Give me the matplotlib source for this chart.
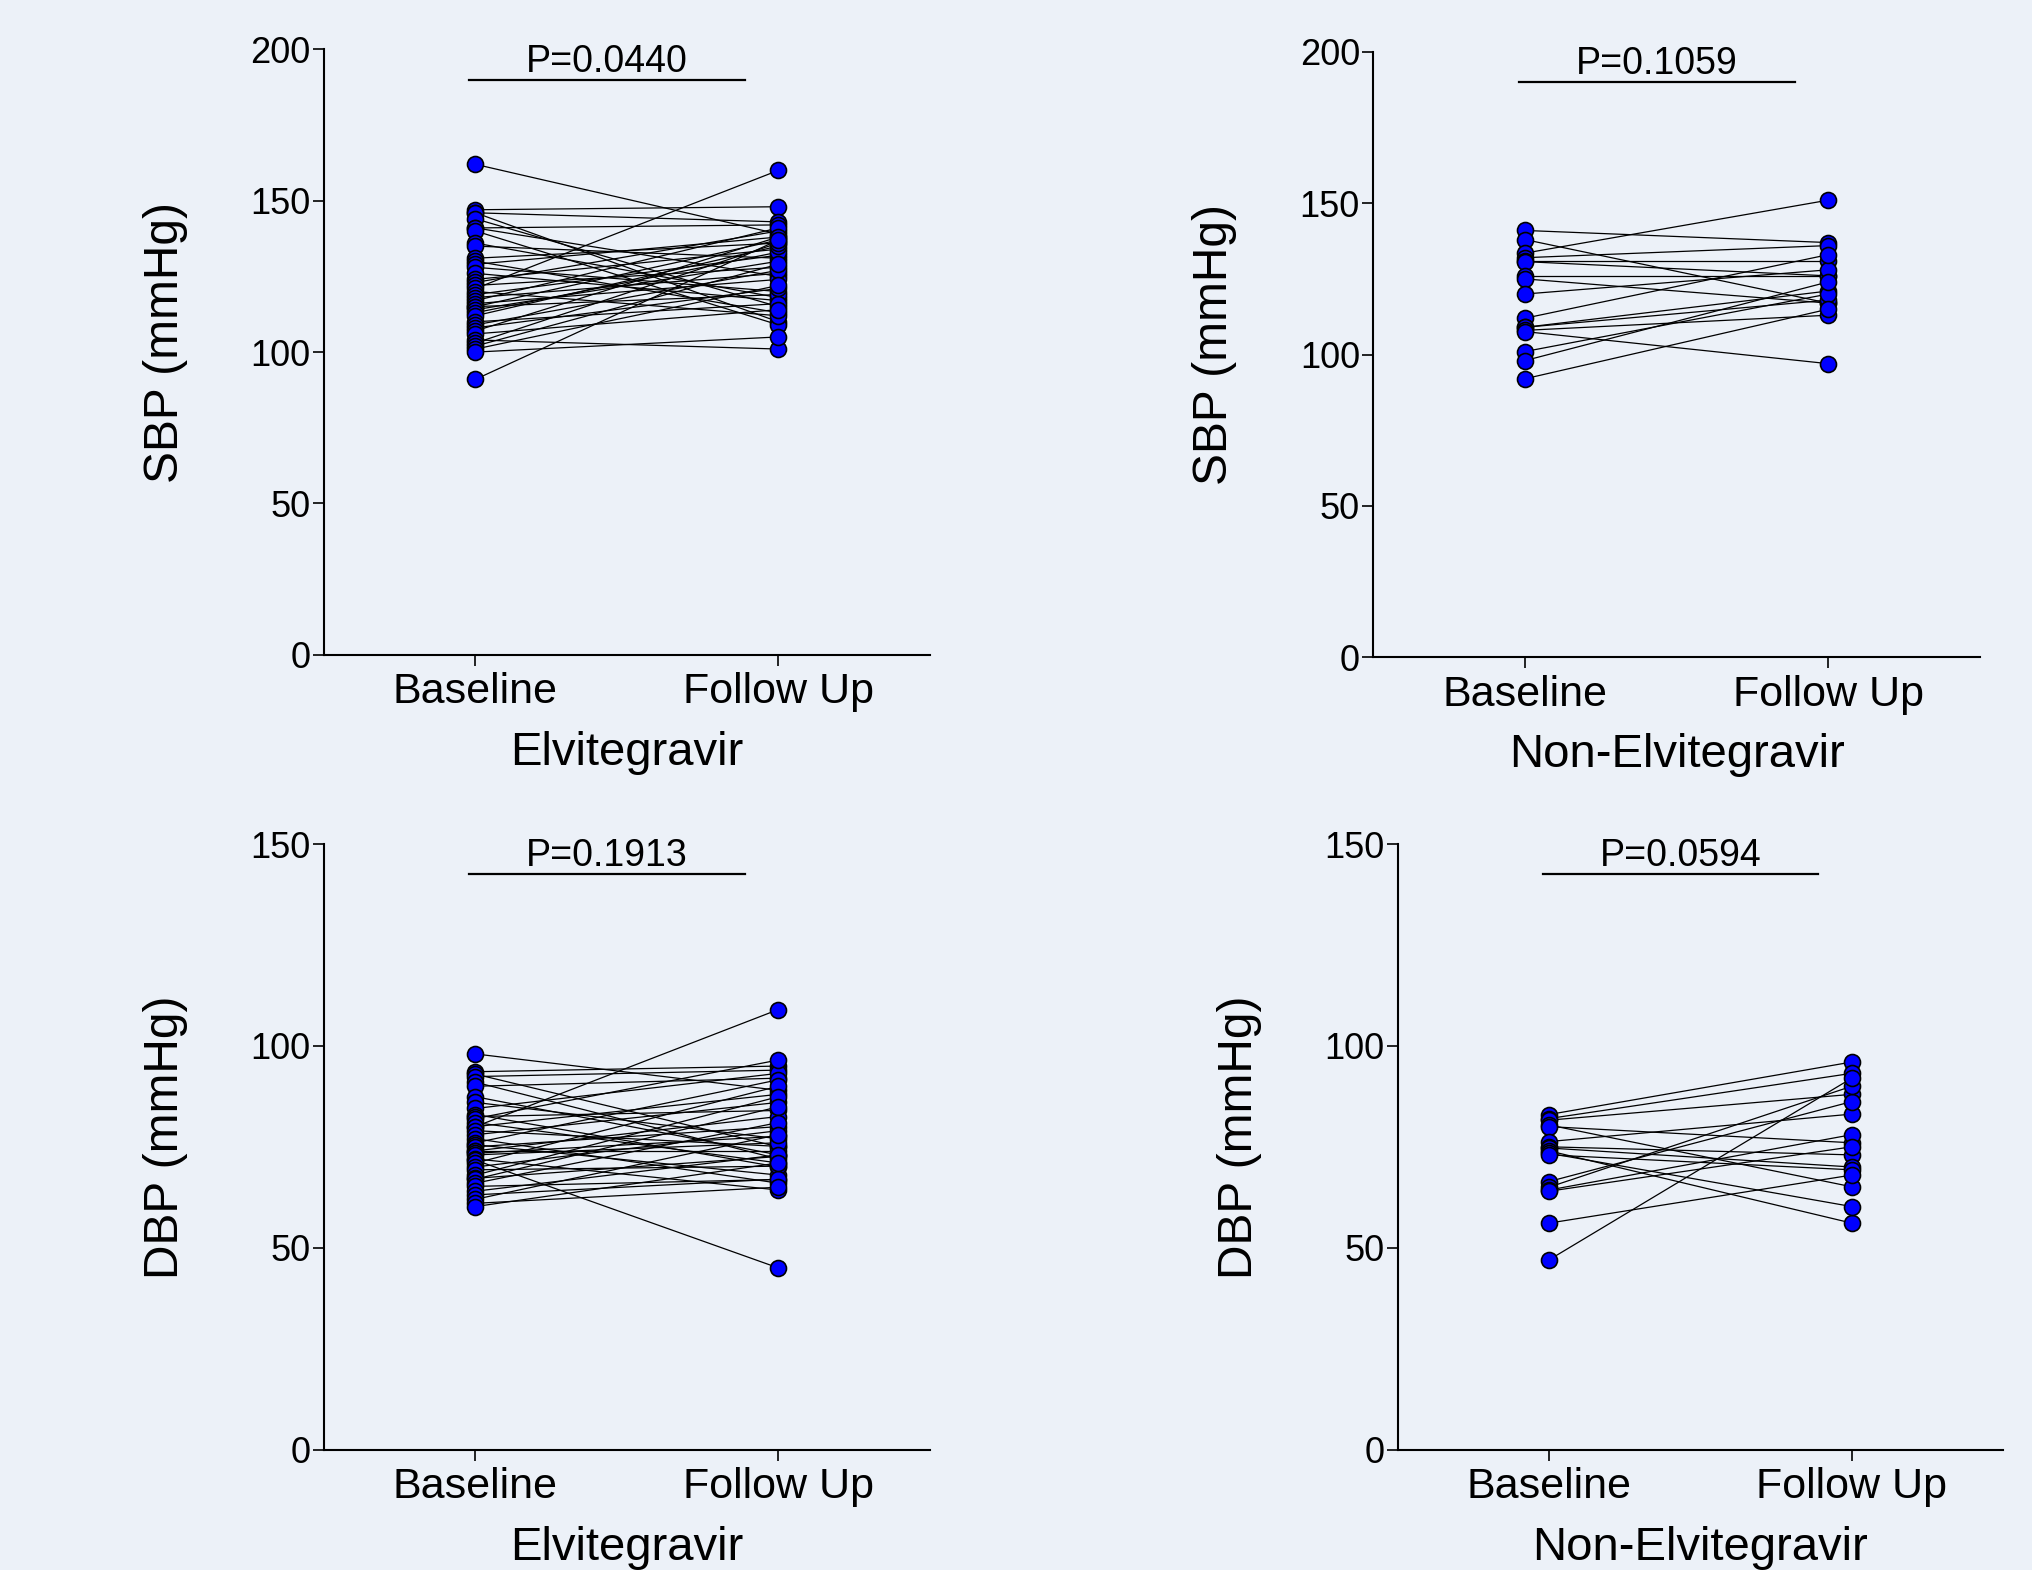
import matplotlib
matplotlib.use("Agg")
import matplotlib.pyplot as plt

plt.rcParams['font.family'] = ['Liberation Sans', 'DejaVu Sans']

# values (one entry per subject)
sbp_elv_base = [162, 147, 146, 146, 144, 141, 141, 140, 136, 135, 131, 130, 129, 128,
                126, 124, 123, 122, 121, 120, 119, 118, 117, 116, 115, 115, 114, 113,
                112, 110, 109, 108, 107, 106, 104, 103, 102, 101, 100, 91]
sbp_elv_follow = [139, 148, 143, 110, 115, 142, 125, 109, 118, 131, 136, 113, 138, 120,
                  117, 134, 140, 128, 160, 112, 132, 126, 141, 124, 137, 119, 130, 133,
                  135, 116, 127, 121, 138, 114, 101, 136, 129, 122, 105, 137]

sbp_non_base = [141, 138, 133.5, 132, 131, 130.7, 126, 125, 120, 112, 109, 109, 108,
                107.6, 101, 98, 92]
sbp_non_follow = [137, 117, 151, 136, 131, 126, 126, 117, 128, 133, 121, 118, 113,
                  97, 120, 124, 115]

dbp_elv_base = [98, 93.6, 93, 92.4, 91, 90, 87.4, 86, 84.5, 83, 82.5, 82, 81, 80, 80,
                79, 78, 77, 76, 75.5, 75, 74, 74, 73.4, 73, 72, 71.7, 71, 70, 69.3,
                68, 67.2, 67, 66, 65.2, 64, 63.1, 62, 61, 60.2]
dbp_elv_follow = [89, 95, 75, 94, 72, 92, 73, 77, 93.2, 70, 84, 96.5, 71, 109, 88,
                  75.1, 86, 66, 91.6, 68, 80, 74, 82.5, 77.6, 76, 64.3, 45, 90, 79,
                  70.2, 87.4, 72.6, 84.9, 81, 66.9, 73, 67, 78, 65, 71]

dbp_non_base = [83, 82, 81.6, 80.4, 80, 76.3, 75, 74.7, 74, 73.4, 73, 66.4, 65, 64.3,
                64, 56.1, 47]
dbp_non_follow = [96, 93.2, 88, 65.1, 76, 83.1, 73, 70, 56.1, 60.2, 69.3, 86.2, 90,
                  78, 75, 68, 92]

categories = ['Baseline', 'Follow Up']
group_labels = ['Elvitegravir', 'Non-Elvitegravir', 'Elvitegravir', 'Non-Elvitegravir']
y_labels = ['SBP (mmHg)', 'SBP (mmHg)', 'DBP (mmHg)', 'DBP (mmHg)']
p_values = ['P=0.0440', 'P=0.1059', 'P=0.1913', 'P=0.0594']
y_tops = [200, 200, 150, 150]
y_steps = [50, 50, 50, 50]
bracket_y = [190, 190, 142.5, 142.5]

bg = '#ECF1F8'
fig = plt.figure(figsize=(20.33, 15.70), dpi=100, facecolor=bg)

positions = [
    [0.1594, 0.5829, 0.2979, 0.3857],
    [0.6754, 0.5813, 0.2985, 0.3857],
    [0.1594, 0.0767, 0.2979, 0.3857],
    [0.6875, 0.0767, 0.2978, 0.3857],
]
datasets = [
    (sbp_elv_base, sbp_elv_follow),
    (sbp_non_base, sbp_non_follow),
    (dbp_elv_base, dbp_elv_follow),
    (dbp_non_base, dbp_non_follow),
]

for i, pos in enumerate(positions):
    ax = fig.add_axes(pos)
    ax.set_facecolor(bg)
    base, follow = datasets[i]
    for b, f in zip(base, follow):
        ax.plot([0, 1], [b, f], color='black', lw=0.9, zorder=2)
    ax.plot([0] * len(base), base, 'o', ms=11.5, mfc='#0000FF', mec='black',
            mew=1.2, zorder=3, clip_on=False)
    ax.plot([1] * len(follow), follow, 'o', ms=11.5, mfc='#0000FF', mec='black',
            mew=1.2, zorder=3, clip_on=False)

    ax.set_xlim(-0.5, 1.5)
    ax.set_ylim(0, y_tops[i])
    ax.set_yticks(range(0, y_tops[i] + 1, y_steps[i]))
    ax.set_xticks([0, 1])
    ax.set_xticklabels(categories)

    for s in ['top', 'right']:
        ax.spines[s].set_visible(False)
    for s in ['left', 'bottom']:
        ax.spines[s].set_linewidth(1.5)
    ax.tick_params(axis='x', labelsize=31, length=8, width=1.2, pad=4.5)
    ax.tick_params(axis='y', labelsize=26, length=8, width=1.2, pad=1.5)

    ax.set_xlabel(group_labels[i], fontsize=34)
    ax.xaxis.set_label_coords(0.5, -0.162)
    ax.xaxis.label.set_verticalalignment('center')
    ax.set_ylabel(y_labels[i], fontsize=34.5)
    ax.yaxis.set_label_coords(-0.261, 0.516)
    ax.yaxis.label.set_verticalalignment('center')

    # significance bracket
    ax.plot([-0.02, 0.89], [bracket_y[i], bracket_y[i]], color='black', lw=1.6,
            clip_on=False)
    ax.text(0.435, bracket_y[i], p_values[i], fontsize=27,
            ha='center', va='bottom')

fig.savefig('out.png', dpi=100, facecolor=bg)
